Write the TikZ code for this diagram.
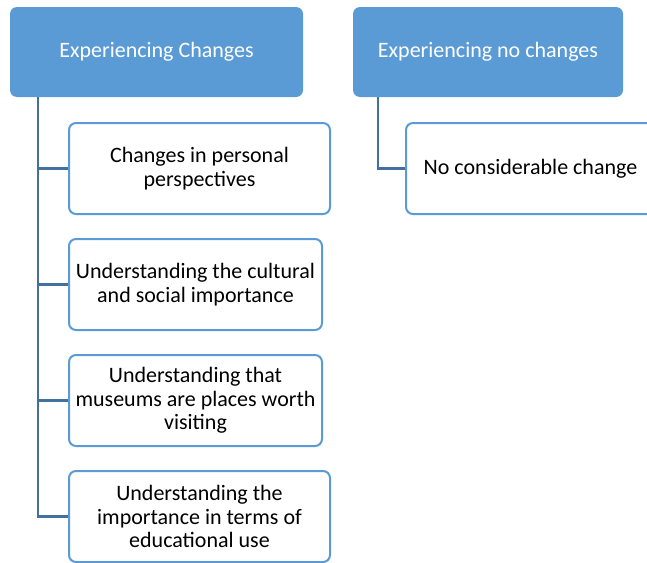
\documentclass[tikz,border=0pt]{standalone}
\usepackage{fontspec}
\setmainfont{Carlito}
\begin{document}
\begin{tikzpicture}[x=1pt,y=-1pt,
  topbox/.style={fill=topblue,draw=none,rounded corners=7pt,inner sep=0pt,
    minimum height=90pt,text=white,font=\fontsize{22}{23.5}\selectfont,align=center},
  childbox/.style={fill=white,draw=topblue,line width=2pt,rounded corners=7pt,inner sep=0pt,
    minimum height=91pt,text=black,font=\fontsize{22}{23.5}\selectfont,align=center},
  conn/.style={draw=connblue,line width=2.2pt}]
\definecolor{topblue}{HTML}{5B9BD5}
\definecolor{connblue}{HTML}{41719C}
\useasboundingbox (0,0) rectangle (647,562);
\node[topbox,minimum width=293pt] (A) at (156.5,52) {Experiencing Changes};
\node[topbox,minimum width=270pt] (B) at (488,52) {Experiencing no changes};
\node[childbox,minimum width=261pt] (C1) at (199.5,168.5) {Changes in personal\\perspectives};
\node[childbox,minimum width=253pt] (C2) at (195.5,284.5) {Understanding the cultural\\and social importance};
\node[childbox,minimum width=253pt] (C3) at (195.5,400.5) {Understanding that\\museums are places worth\\visiting};
\node[childbox,minimum width=261pt] (C4) at (199.5,516.5) {Understanding the\\importance in terms of\\educational use};
\node[childbox,minimum width=249pt] (R1) at (530.5,168.5) {No considerable change};
\draw[conn] ([xshift=28pt]A.south west) |- (C1.west);
\draw[conn] ([xshift=28pt]A.south west) |- (C2.west);
\draw[conn] ([xshift=28pt]A.south west) |- (C3.west);
\draw[conn] ([xshift=28pt]A.south west) |- (C4.west);
\draw[conn] ([xshift=25pt]B.south west) |- (R1.west);
\end{tikzpicture}
\end{document}
